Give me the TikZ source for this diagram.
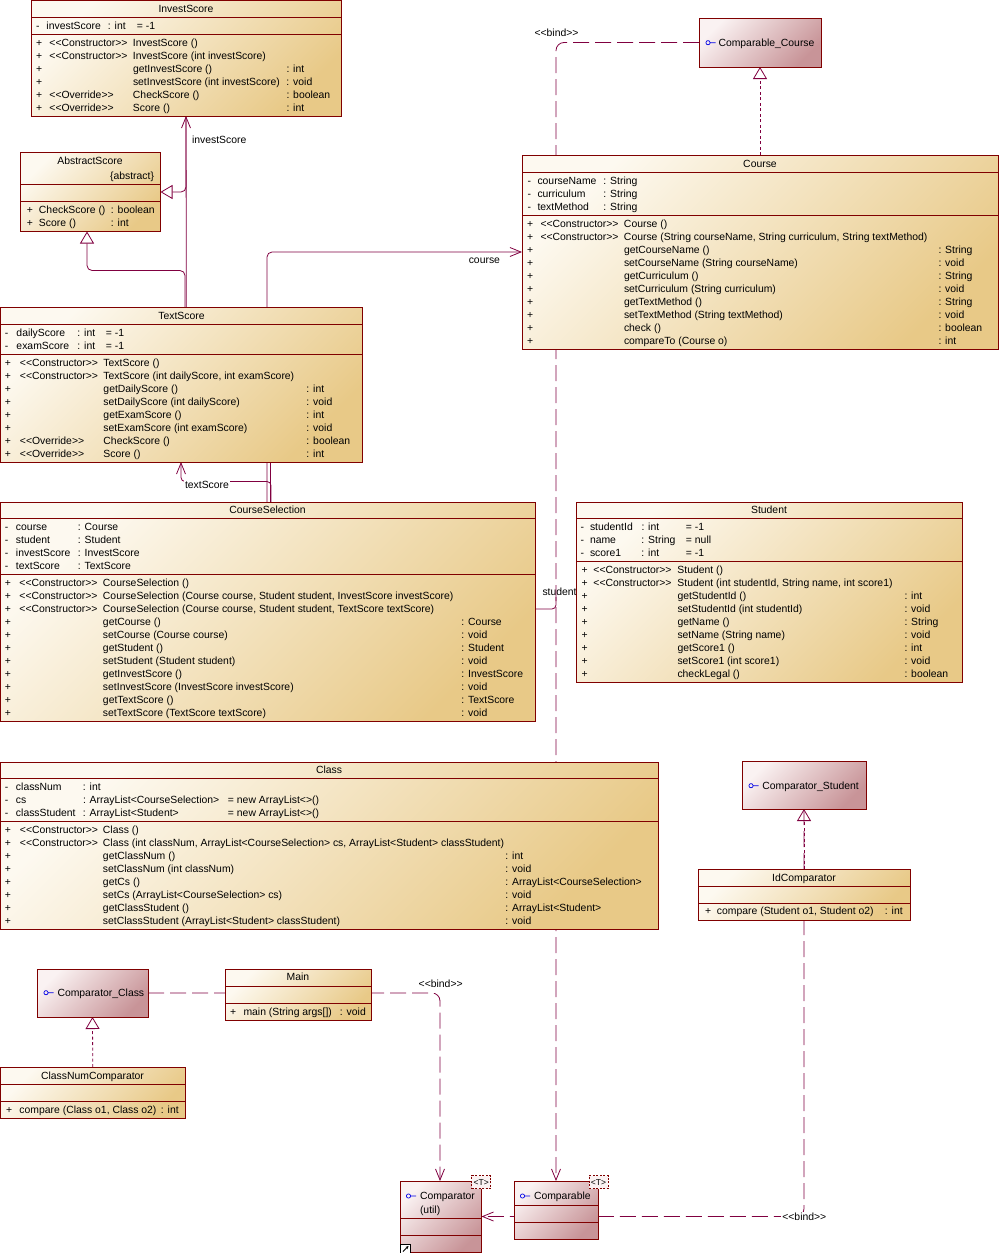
\documentclass[tikz,border=0pt]{standalone}
\usepackage{fontspec}
\newfontfamily\umlfont{Liberation Sans}
\usetikzlibrary{arrows.meta,backgrounds}
\definecolor{bord}{RGB}{128,0,0}
\definecolor{lnk}{RGB}{128,0,64}
\definecolor{cA}{RGB}{253,249,240}
\definecolor{cB}{RGB}{232,201,135}
\definecolor{iA}{RGB}{250,242,242}
\definecolor{iB}{RGB}{200,148,152}
\definecolor{icon}{RGB}{0,0,230}
\newcommand\ltlt{<\kern0pt<}
\newcommand\gtgt{>\kern0pt>}
\newcommand\cons{\ltlt Constructor\gtgt}
\newcommand\ovr{\ltlt Override\gtgt}
\newcommand\umlsize{\fontsize{10.4}{13}\selectfont}
\newlength\wa \newlength\wb \newlength\wc
\newcommand\setcols[3]{\setlength\wa{#1}\setlength\wb{#2}\setlength\wc{#3}}
\newcommand\rw[4]{\hbox{\strut\hbox to\wa{#1\hss}\hbox to\wb{#2\hss}\hbox to\wc{#3\hss}#4}}
\newcommand\ifc[2]{\draw[draw=icon, line width=0.7pt] (#1+2.5,#2) circle[radius=2.1pt] (#1+4.6,#2) -- (#1+10,#2);}
\tikzset{
 cbox/.style={draw=bord, line width=0.9pt, top color=cA, bottom color=cB, shading angle=45, inner sep=0pt, outer sep=0pt, anchor=north west, rectangle},
 ibox/.style={cbox, top color=iA, bottom color=iB, shading angle=45},
 sepl/.style={draw=bord, line width=0.9pt},
 txt/.style={inner sep=0pt, outer sep=0pt, font=\umlfont\umlsize, text=black},
 rows/.style={txt, anchor=north west},
 ttl/.style={txt, anchor=base},
 conn/.style={draw=lnk, line width=0.8pt},
 assoc/.style={conn, -{Straight Barb[length=11pt, width=9pt]}},
 gen/.style={conn, -{Triangle[open, length=12pt, width=14pt, fill=white]}},
 real/.style={gen, dash pattern=on 3pt off 2.5pt},
 bind/.style={conn, dash pattern=on 16pt off 6pt, -{Straight Barb[length=11pt, width=9pt]}, rounded corners=8pt},
 lbl/.style={txt, fill=white, inner sep=1pt, anchor=base},
 tbox/.style={draw=bord, line width=0.7pt, dash pattern=on 2pt off 1.5pt, fill=iA, inner sep=0pt, minimum width=19pt, minimum height=13pt, anchor=north west, font=\umlfont\fontsize{8.5}{10}\selectfont},
}
\begin{document}
\begin{tikzpicture}[x=1pt, y=-1pt]
\useasboundingbox (0,0) rectangle (999,1253);

% ---------- InvestScore
\node[cbox, minimum width=310pt, minimum height=116pt] (InvestScore) at (31,0) {};
\draw[sepl] (31,17) -- (341,17);
\draw[sepl] (31,34) -- (341,34);
\node[ttl] (InvestScoreN) at (186,12) {InvestScore};
\node[rows] (InvestScoreA) at (36,20.2) {\setcols{10.5pt}{61.5pt}{29pt}\vbox{\rw{-}{investScore}{: int}{= -1}}};
\node[rows] (InvestScoreO) at (36,37) {\setcols{13.5pt}{83.5pt}{153.5pt}\vbox{%
\rw{+}{\cons}{InvestScore ()}{}
\rw{+}{\cons}{InvestScore (int investScore)}{}
\rw{+}{}{getInvestScore ()}{: int}
\rw{+}{}{setInvestScore (int investScore)}{: void}
\rw{+}{\ovr}{CheckScore ()}{: boolean}
\rw{+}{\ovr}{Score ()}{: int}}};

% ---------- AbstractScore
\node[cbox, minimum width=140pt, minimum height=79pt] (AbstractScore) at (20.5,152.5) {};
\draw[sepl] (20.5,184) -- (160.5,184);
\draw[sepl] (20.5,201.5) -- (160.5,201.5);
\node[ttl] (AbstractScoreN) at (90,164.6) {AbstractScore};
\node[txt, anchor=base east] (AbstractScoreS) at (154,179.3) {\{abstract\}};
\node[rows] (AbstractScoreO) at (27,204.5) {\setcols{12pt}{72pt}{0pt}\vbox{%
\rw{+}{CheckScore ()}{: boolean}{}
\rw{+}{Score ()}{: int}{}}};

% ---------- Comparable_Course
\node[ibox, minimum width=122pt, minimum height=49pt] (ComparableCourse) at (699,18) {};
\ifc{705.5}{42.7}
\node[txt, anchor=base west] (ComparableCourseN) at (718.5,46.3) {Comparable\_Course};

% ---------- Course
\node[cbox, minimum width=476pt, minimum height=194pt] (Course) at (522,155) {};
\draw[sepl] (522,172.5) -- (998,172.5);
\draw[sepl] (522,215.5) -- (998,215.5);
\node[ttl] (CourseN) at (760,167.3) {Course};
\node[rows] (CourseA) at (527.5,175.2) {\setcols{10pt}{66pt}{0pt}\vbox{%
\rw{-}{courseName}{: String}{}
\rw{-}{curriculum}{: String}{}
\rw{-}{textMethod}{: String}{}}};
\node[rows] (CourseO) at (527,218.2) {\setcols{13.5pt}{83.5pt}{314.5pt}\vbox{%
\rw{+}{\cons}{Course ()}{}
\rw{+}{\cons}{Course (String courseName, String curriculum, String textMethod)}{}
\rw{+}{}{getCourseName ()}{: String}
\rw{+}{}{setCourseName (String courseName)}{: void}
\rw{+}{}{getCurriculum ()}{: String}
\rw{+}{}{setCurriculum (String curriculum)}{: void}
\rw{+}{}{getTextMethod ()}{: String}
\rw{+}{}{setTextMethod (String textMethod)}{: void}
\rw{+}{}{check ()}{: boolean}
\rw{+}{}{compareTo (Course o)}{: int}}};

% ---------- TextScore
\node[cbox, minimum width=361.5pt, minimum height=154.5pt] (TextScore) at (0.5,307.5) {};
\draw[sepl] (0.5,324.5) -- (362,324.5);
\draw[sepl] (0.5,354.5) -- (362,354.5);
\node[ttl] (TextScoreN) at (181.5,319.3) {TextScore};
\node[rows] (TextScoreA) at (5,327.5) {\setcols{11.5pt}{61pt}{28.5pt}\vbox{%
\rw{-}{dailyScore}{: int}{= -1}
\rw{-}{examScore}{: int}{= -1}}};
\node[rows] (TextScoreO) at (5,357.2) {\setcols{15pt}{83.5pt}{203pt}\vbox{%
\rw{+}{\cons}{TextScore ()}{}
\rw{+}{\cons}{TextScore (int dailyScore, int examScore)}{}
\rw{+}{}{getDailyScore ()}{: int}
\rw{+}{}{setDailyScore (int dailyScore)}{: void}
\rw{+}{}{getExamScore ()}{: int}
\rw{+}{}{setExamScore (int examScore)}{: void}
\rw{+}{\ovr}{CheckScore ()}{: boolean}
\rw{+}{\ovr}{Score ()}{: int}}};

% ---------- CourseSelection
\node[cbox, minimum width=534.5pt, minimum height=219pt] (CourseSelection) at (0.5,502) {};
\draw[sepl] (0.5,518.5) -- (535,518.5);
\draw[sepl] (0.5,574.5) -- (535,574.5);
\node[ttl] (CourseSelectionN) at (267.5,513.1) {CourseSelection};
\node[rows] (CourseSelectionA) at (5,521.2) {\setcols{11pt}{62pt}{0pt}\vbox{%
\rw{-}{course}{: Course}{}
\rw{-}{student}{: Student}{}
\rw{-}{investScore}{: InvestScore}{}
\rw{-}{textScore}{: TextScore}{}}};
\node[rows] (CourseSelectionO) at (5,577.5) {\setcols{14.5pt}{83.5pt}{358.5pt}\vbox{%
\rw{+}{\cons}{CourseSelection ()}{}
\rw{+}{\cons}{CourseSelection (Course course, Student student, InvestScore investScore)}{}
\rw{+}{\cons}{CourseSelection (Course course, Student student, TextScore textScore)}{}
\rw{+}{}{getCourse ()}{: Course}
\rw{+}{}{setCourse (Course course)}{: void}
\rw{+}{}{getStudent ()}{: Student}
\rw{+}{}{setStudent (Student student)}{: void}
\rw{+}{}{getInvestScore ()}{: InvestScore}
\rw{+}{}{setInvestScore (InvestScore investScore)}{: void}
\rw{+}{}{getTextScore ()}{: TextScore}
\rw{+}{}{setTextScore (TextScore textScore)}{: void}}};

% ---------- Student
\node[cbox, minimum width=386pt, minimum height=180pt] (Student) at (576,502) {};
\draw[sepl] (576,518.5) -- (962,518.5);
\draw[sepl] (576,561.5) -- (962,561.5);
\node[ttl] (StudentN) at (769,513.1) {Student};
\node[rows] (StudentA) at (580.5,521.2) {\setcols{9.5pt}{51.5pt}{44.5pt}\vbox{%
\rw{-}{studentId}{: int}{= -1}
\rw{-}{name}{: String}{= null}
\rw{-}{score1}{: int}{= -1}}};
\node[rows] (StudentO) at (581.5,564.2) {\setcols{12pt}{84pt}{227pt}\vbox{%
\rw{+}{\cons}{Student ()}{}
\rw{+}{\cons}{Student (int studentId, String name, int score1)}{}
\rw{+}{}{getStudentId ()}{: int}
\rw{+}{}{setStudentId (int studentId)}{: void}
\rw{+}{}{getName ()}{: String}
\rw{+}{}{setName (String name)}{: void}
\rw{+}{}{getScore1 ()}{: int}
\rw{+}{}{setScore1 (int score1)}{: void}
\rw{+}{}{checkLegal ()}{: boolean}}};

% ---------- Class
\node[cbox, minimum width=657.5pt, minimum height=167pt] (Class) at (0.5,762) {};
\draw[sepl] (0.5,778.5) -- (658,778.5);
\draw[sepl] (0.5,821.5) -- (658,821.5);
\node[ttl] (ClassN) at (329,773.3) {Class};
\node[rows] (ClassA) at (5,781.2) {\setcols{11pt}{67pt}{145pt}\vbox{%
\rw{-}{classNum}{: int}{}
\rw{-}{cs}{: ArrayList<CourseSelection>}{= new ArrayList<>()}
\rw{-}{classStudent}{: ArrayList<Student>}{= new ArrayList<>()}}};
\node[rows] (ClassO) at (5,824.2) {\setcols{15pt}{83pt}{402.5pt}\vbox{%
\rw{+}{\cons}{Class ()}{}
\rw{+}{\cons}{Class (int classNum, ArrayList<CourseSelection> cs, ArrayList<Student> classStudent)}{}
\rw{+}{}{getClassNum ()}{: int}
\rw{+}{}{setClassNum (int classNum)}{: void}
\rw{+}{}{getCs ()}{: ArrayList<CourseSelection>}
\rw{+}{}{setCs (ArrayList<CourseSelection> cs)}{: void}
\rw{+}{}{getClassStudent ()}{: ArrayList<Student>}
\rw{+}{}{setClassStudent (ArrayList<Student> classStudent)}{: void}}};

% ---------- Comparator_Student
\node[ibox, minimum width=124pt, minimum height=48pt] (ComparatorStudent) at (742,761) {};
\ifc{748.5}{785.7}
\node[txt, anchor=base west] (ComparatorStudentN) at (762.3,789.3) {Comparator\_Student};

% ---------- IdComparator
\node[cbox, minimum width=212pt, minimum height=51pt] (IdComparator) at (698,869) {};
\draw[sepl] (698,886.5) -- (910,886.5);
\draw[sepl] (698,903.5) -- (910,903.5);
\node[ttl] (IdComparatorN) at (804,881.3) {IdComparator};
\node[rows] (IdComparatorO) at (705,905.8) {\setcols{12pt}{168pt}{0pt}\vbox{%
\rw{+}{compare (Student o1, Student o2)}{: int}{}}};

% ---------- Comparator_Class
\node[ibox, minimum width=111pt, minimum height=48pt] (ComparatorClass) at (37,969) {};
\ifc{43.5}{992.7}
\node[txt, anchor=base west] (ComparatorClassN) at (57.5,996.3) {Comparator\_Class};

% ---------- Main
\node[cbox, minimum width=146pt, minimum height=51pt] (Main) at (225.5,969) {};
\draw[sepl] (225.5,986.5) -- (371.5,986.5);
\draw[sepl] (225.5,1003.5) -- (371.5,1003.5);
\node[ttl] (MainN) at (298,980.9) {Main};
\node[rows] (MainO) at (230,1006.2) {\setcols{13.5pt}{96.5pt}{0pt}\vbox{%
\rw{+}{main (String args[])}{: void}{}}};

% ---------- ClassNumComparator
\node[cbox, minimum width=184.5pt, minimum height=51pt] (ClassNumComparator) at (0.5,1067) {};
\draw[sepl] (0.5,1084.5) -- (185,1084.5);
\draw[sepl] (0.5,1101.5) -- (185,1101.5);
\node[ttl] (ClassNumComparatorN) at (92.5,1079.6) {ClassNumComparator};
\node[rows] (ClassNumComparatorO) at (6,1104.2) {\setcols{13.5pt}{141.5pt}{0pt}\vbox{%
\rw{+}{compare (Class o1, Class o2)}{: int}{}}};

% ---------- Comparator (util)
\node[ibox, minimum width=81pt, minimum height=71pt] (Comparator) at (400.5,1181) {};
\draw[sepl] (400.5,1218) -- (481.5,1218);
\draw[sepl] (400.5,1235.5) -- (481.5,1235.5);
\ifc{406}{1196}
\node[txt, anchor=base west] (ComparatorN) at (420,1199.6) {Comparator};
\node[txt, anchor=base west] (ComparatorP) at (420,1213.6) {(util)};
\node[tbox] (ComparatorT) at (471.3,1175.3) {<T>};
\node[draw=black, line width=0.6pt, fill=white, minimum width=10pt, minimum height=9pt, inner sep=0pt, outer sep=0pt, anchor=north west] (ComparatorLink) at (400.5,1244) {};
\draw[-{Stealth[length=3pt,width=3pt]}, line width=0.8pt] (403,1251.5) -- (408.5,1246);

% ---------- Comparable
\node[ibox, minimum width=84pt, minimum height=58pt] (Comparable) at (514,1181) {};
\draw[sepl] (514,1205.3) -- (598,1205.3);
\draw[sepl] (514,1222.7) -- (598,1222.7);
\ifc{520}{1196}
\node[txt, anchor=base west] (ComparableN) at (534,1199.6) {Comparable};
\node[tbox] (ComparableT) at (588.7,1175.3) {<T>};

% ---------- connectors
\begin{scope}[on background layer]
\draw[assoc] ([xshift=270pt]CourseSelection.north west) -- ++(0,-110) -- ++(-84,0) -- ([xshift=155pt]InvestScore.south west);
\node[lbl, fill=none, anchor=base west] (lblInvest) at (191,143.6) {investScore};
\draw[gen, rounded corners=5pt] ([xshift=155pt]InvestScore.south west) |- (AbstractScore.east);
\draw[gen, rounded corners=5pt] ([xshift=184.5pt]TextScore.north west) -- ++(0,-37) -| ([xshift=66.5pt]AbstractScore.south west);
\draw[assoc, rounded corners=5pt] ([xshift=266.5pt]CourseSelection.north west) |- (Course.west);
\node[lbl, fill=none, anchor=base east] (lblCourse) at (501,263.6) {course};
\draw[assoc, rounded corners=4pt] ([xshift=270.5pt]CourseSelection.north west) -- ++(0,-20.5) -| ([xshift=180.5pt]TextScore.south west);
\node[lbl, anchor=base west] (lblText) at (184,488.6) {textScore};
\coordinate (stuEnd) at (556,597);
\draw[conn, rounded corners=4pt] ([yshift=2.5pt]CourseSelection.east) -| (stuEnd);
\node[lbl, fill=none, anchor=base west] (lblStudent) at (541.5,595.9) {student};
\draw[real] (Course.north) -- (ComparableCourse.south);
\draw[bind] (ComparableCourse.west) -| ([xshift=42pt]Comparable.north west);
\node[lbl, fill=none] (lblBind1) at (556.5,36.9) {\ltlt bind\gtgt};
\draw[real] (ClassNumComparator.north) -- (ComparatorClass.south);
\draw[bind] (ComparatorClass.east) -| ([xshift=39.5pt]Comparator.north west);
\node[lbl, fill=none] (lblBind2) at (440.7,987.9) {\ltlt bind\gtgt};
\draw[real] (IdComparator.north) -- (ComparatorStudent.south);
\draw[bind] (ComparatorStudent.south) |- (Comparator.east);
\node[lbl] (lblBind3) at (804.3,1220.3) {\ltlt bind\gtgt};
\end{scope}
\end{tikzpicture}
\end{document}
